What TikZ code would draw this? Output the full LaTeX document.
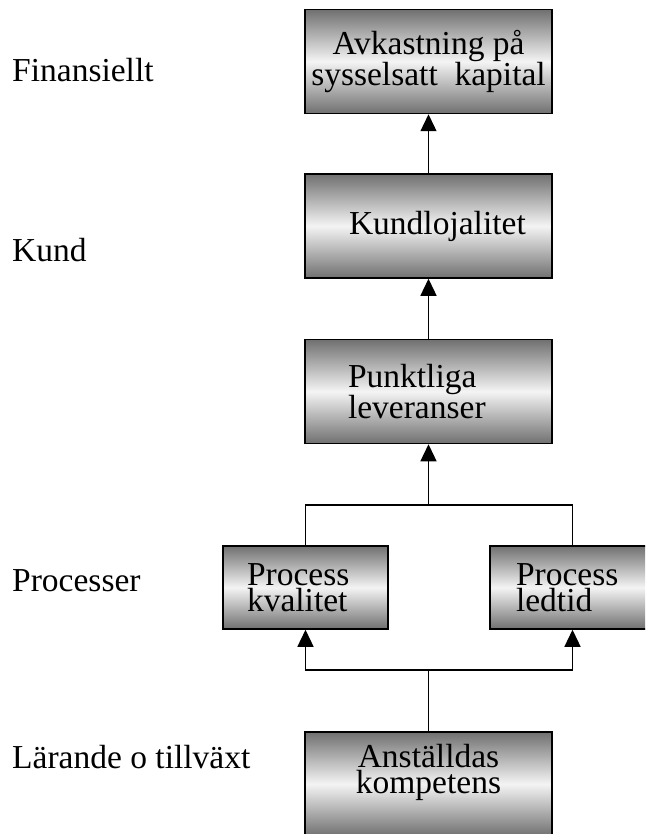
\documentclass[tikz,border=0pt]{standalone}
\usepackage{fontspec}
\setmainfont{Liberation Serif}
\usetikzlibrary{arrows.meta}
\definecolor{box_dark}{RGB}{112, 112, 112}
\definecolor{box_light}{RGB}{244, 244, 244}
\def \boxfont {\fontsize{33.5}{26}\selectfont}

\begin{document}
\begin{tikzpicture}[
    x=1pt, y=-1pt,
    perspective/.style={
        anchor=base west,
        inner sep=0pt,
        font=\boxfont
    },
    box/.style={
        rectangle,
        draw=black,
        line width=1.5pt,
        top color=box_dark,
        bottom color=box_dark,
        middle color=box_light,
        inner sep=0pt,
        font=\boxfont,
        align=center,
        execute at begin node={\hyphenpenalty=10000}
    },
    big_box/.style={
        box,
        minimum width=247pt,
        minimum height=104pt
    },
    small_box/.style={
        box,
        minimum width=165pt,
        minimum height=83pt
    },
    link/.style={
        line width=1.3pt
    },
    arrow/.style={
        -{Triangle[length=17pt, width=16pt]},
        line width=1.3pt
    }
]
\useasboundingbox (0,0) rectangle (645,834);
\clip (0,0) rectangle (645,834);

% Perspectives down the left side
\node[perspective] (finansiellt) at (12,82) {Finansiellt};
\node[perspective] (kund) at (12,261) {Kund};
\node[perspective] (processer) at (12,591) {Processer};
\node[perspective] (larande) at (12,768) {Lärande o tillväxt};

% Measures
\node[big_box] (avkastning) at (428.5,61.5) {Avkastning på\\sysselsatt\ \ kapital};
\node[big_box, text width=159pt, align=left] (kundlojalitet) at (428.5,226) {Kundlojalitet};
\node[big_box, text width=161pt, align=left] (leveranser) at (428.5,391.5) {Punktliga\\leveranser};

\node[small_box, text width=117pt, align=left] (kvalitet) at (305.5,587.5) {Process\\kvalitet};
\node[small_box, text width=113pt, align=left] (ledtid) at (572.5,587.5) {Process\\ledtid};

% text sits high in this one
\node[big_box, text depth=31pt] (kompetens) at (428.5,784) {Anställdas\\kompetens};

\coordinate (split_top) at (428.5,505);
\coordinate (split_bottom) at (428.5,670);

% Cause and effect chain
\draw[arrow] (kundlojalitet.north) -- (avkastning.south);
\draw[arrow] (leveranser.north) -- (kundlojalitet.south);

\draw[link] (kvalitet.north) |- (split_top) -| (ledtid.north);
\draw[arrow] (split_top) -- (leveranser.south);

\draw[link] (kompetens.north) -- (split_bottom);
\draw[arrow] (split_bottom) -| (kvalitet.south);
\draw[arrow] (split_bottom) -| (ledtid.south);

\end{tikzpicture}
\end{document}
